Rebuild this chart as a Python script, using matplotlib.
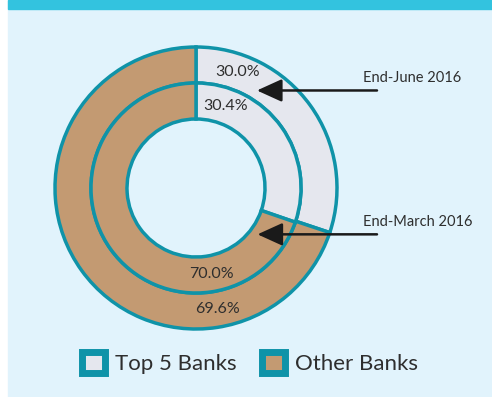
# nested donut: share of Top 5 banks vs other banks

import numpy as np
import matplotlib
matplotlib.use('Agg')
import matplotlib.pyplot as plt
from matplotlib.patches import Patch, Rectangle

plt.rcParams['font.family'] = ['Lato', 'DejaVu Sans']

# data
categories = ['Top 5 Banks', 'Other Banks']
june_2016 = [30.0, 69.6]    # outer ring
march_2016 = [30.4, 70.0]   # inner ring
ring_names = ['End-June 2016', 'End-March 2016']

# styling
BG = '#e1f3fc'
BAR = '#33c3df'
TEAL = '#0f93a8'
COLORS = ['#e5e7ee', '#c39a72']
TXT = '#2e2e2e'

W, H = 492, 397
fig = plt.figure(figsize=(W/100, H/100), dpi=100)
fig.patch.set_facecolor('white')
ax = fig.add_axes([0, 0, 1, 1])

# centre and radii in pixel units (y measured upward)
cx, cy = 196, H - 188
R_OUT, R_MID, R_IN = 141, 105, 69

wp = dict(edgecolor=TEAL, linewidth=2.5)
outer, _ = ax.pie(june_2016, radius=R_OUT, center=(cx, cy), colors=COLORS,
                  startangle=90, counterclock=False, normalize=True,
                  wedgeprops=dict(width=R_OUT - R_MID, **wp))
inner, _ = ax.pie(march_2016, radius=R_MID, center=(cx, cy), colors=COLORS,
                  startangle=90, counterclock=False, normalize=True,
                  wedgeprops=dict(width=R_MID - R_IN, **wp))

ax.set_xlim(0, W)
ax.set_ylim(0, H)
ax.set_aspect('auto')
ax.axis('off')

# background panels
ax.add_patch(Rectangle((8, 0), W - 8, H, color=BG, zorder=-10))
ax.add_patch(Rectangle((8, H - 9), W - 8, 9, color=BAR, zorder=-9))


def polar(r, ang):
    a = np.radians(ang)
    return cx + r*np.cos(a), cy + r*np.sin(a)


# percentage labels
mid_out = (R_OUT + R_MID) / 2
mid_in = (R_MID + R_IN) / 2
for vals, r in [(june_2016, mid_out), (march_2016, mid_in)]:
    for v, ang in zip(vals, [70, -80]):
        x, y = polar(r, ang)
        ax.text(x, y, f'{v:.1f}%', ha='center', va='center',
                fontsize=11.5, color=TXT)

# arrows to each ring
for name, r, ang in [(ring_names[0], mid_out - 8, 58), (ring_names[1], mid_in - 10, -37)]:
    x, y = polar(r, ang)
    ax.annotate('', xy=(x, y), xytext=(377, y),
                arrowprops=dict(arrowstyle='-|>,head_length=1.1,head_width=0.5',
                                color='#1a1a1a', lw=1.8, mutation_scale=14,
                                shrinkA=0, shrinkB=0))
    ax.text(363, y + 12, name, ha='left', va='center', fontsize=10.5, color=TXT)

# legend
handles = [Patch(facecolor=c, edgecolor=TEAL, linewidth=5) for c in COLORS]
leg = ax.legend(handles, categories, loc='center', bbox_to_anchor=(250/W, 1 - 363/H),
                ncol=2, frameon=False, fontsize=16, handlelength=1.05,
                handleheight=1.05, handletextpad=0.45, columnspacing=1.1,
                labelcolor=TXT)

fig.savefig('out.png', dpi=100, facecolor=fig.get_facecolor())
